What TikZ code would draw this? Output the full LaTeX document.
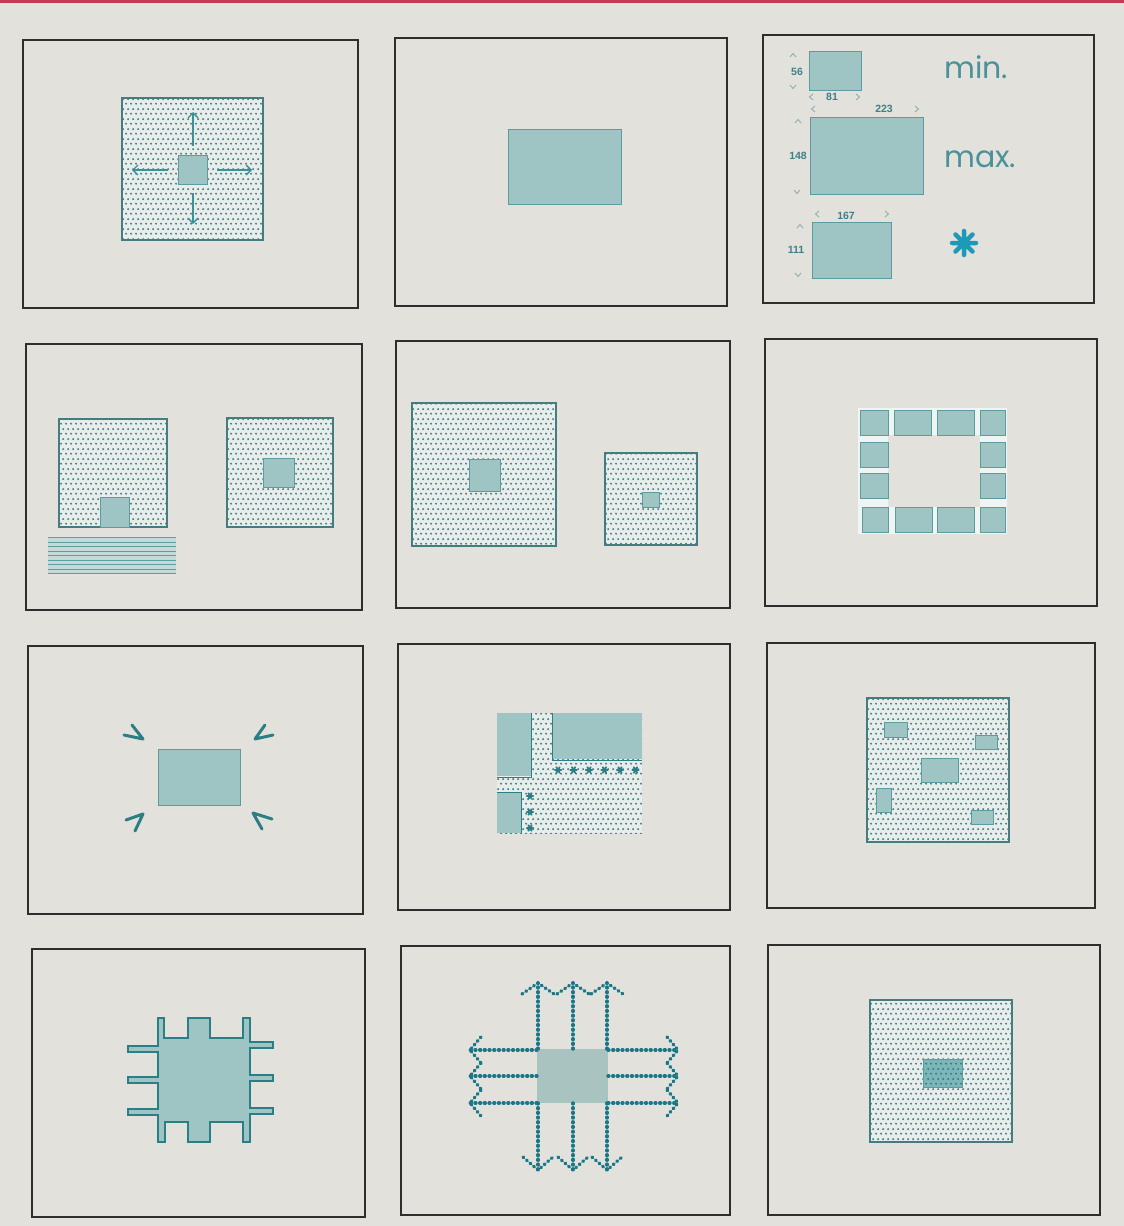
\documentclass[tikz,border=0pt]{standalone}
\usepackage{fontspec}
\usetikzlibrary{patterns.meta,arrows.meta}
\newfontfamily\popfont{Poppins}
\newfontfamily\numfont{Liberation Sans}
\definecolor{bg}{HTML}{E2E1DB}
\definecolor{redline}{HTML}{C43A52}
\definecolor{framec}{HTML}{2E2E2E}
\definecolor{tealfill}{HTML}{9EC4C4}
\definecolor{tealedge}{HTML}{5C9C9F}
\definecolor{dotc}{HTML}{457C80}
\definecolor{dotbg}{HTML}{E6EDEA}
\definecolor{arrc}{HTML}{3A9298}
\definecolor{darkteal}{HTML}{2A7E86}
\definecolor{bluedot}{HTML}{1A7787}
\definecolor{astc}{HTML}{1C9AB8}
\definecolor{textc}{HTML}{4A919A}
\definecolor{chevc}{HTML}{8DAFAF}
\definecolor{numc}{HTML}{3E8088}
\definecolor{stripec}{HTML}{5E9EA0}
\definecolor{stripebg}{HTML}{C4DAD8}
\definecolor{gapc}{HTML}{EEF5F3}
\definecolor{greyteal}{HTML}{A9C3C0}
\definecolor{midteal}{HTML}{7DB6B8}
\tikzdeclarepattern{
  name=hexdots, type=uncolored,
  bottom left={(0pt,0pt)}, top right={(5pt,10pt)},
  tile size={(5pt,10pt)},
  code={\fill (1.25pt,2.5pt) circle [radius=1.2pt];
        \fill (3.75pt,7.5pt) circle [radius=1.2pt];}
}
\tikzset{
  panelframe/.style={draw=framec,line width=2pt},
  dotbox/.style={preaction={fill=dotbg},pattern=hexdots,pattern color=dotc,draw=dotc,line width=1.1pt},
  dotarea/.style={preaction={fill=dotbg},pattern=hexdots,pattern color=dotc},
  tealbox/.style={fill=tealfill,draw=tealedge,line width=1pt},
  smallbox/.style={fill=tealfill,draw=tealedge,line width=1pt},
  arr/.style={draw=arrc,line width=1.4pt,-{Straight Barb[length=5pt,width=10pt]}},
  chevline/.style={draw=chevc,line width=0.9pt},
  numlab/.style={text=numc,font=\numfont\bfseries\fontsize{10.5}{11}\selectfont,inner sep=0pt},
  bigword/.style={text=textc,font=\popfont\fontsize{30}{30}\selectfont,inner sep=0pt,anchor=base west},
  chevsev/.style={draw=darkteal,line width=3pt,line cap=round,line join=round},
  dotline/.style={draw=bluedot,line width=3.4pt,dash pattern=on 0.9pt off 3.8pt,line cap=round},
  tile/.style={fill=tealfill,draw=tealedge,line width=0.8pt},
  chevU/.pic={\draw[chevline] (-3,2)--(0,-1.5)--(3,2);},
  chevD/.pic={\draw[chevline] (-3,-2)--(0,1.5)--(3,-2);},
  chevL/.pic={\draw[chevline] (2,-3)--(-1.5,0)--(2,3);},
  chevR/.pic={\draw[chevline] (-2,-3)--(1.5,0)--(-2,3);},
  mk/.pic={\draw[darkteal,line width=1.8pt,line cap=round] (-3.2,0)--(3.2,0) (-1.6,-2.8)--(1.6,2.8) (-1.6,2.8)--(1.6,-2.8);},
}
\begin{document}
\begin{tikzpicture}[x=1pt,y=-1pt]
\useasboundingbox (0,0) rectangle (1124,1226);
\fill[bg] (0,0) rectangle (1124,1226);
\fill[redline] (0,0) rectangle (1124,2.5);

% ---------- frames ----------
\draw[panelframe] (23,40) rectangle (358,308);
\draw[panelframe] (395,38) rectangle (727,306);
\draw[panelframe] (763,35) rectangle (1094,303);
\draw[panelframe] (26,344) rectangle (362,610);
\draw[panelframe] (396,341) rectangle (730,608);
\draw[panelframe] (765,339) rectangle (1097,606);
\draw[panelframe] (28,646) rectangle (363,914);
\draw[panelframe] (398,644) rectangle (730,910);
\draw[panelframe] (767,643) rectangle (1095,908);
\draw[panelframe] (32,949) rectangle (365,1217);
\draw[panelframe] (401,946) rectangle (730,1215);
\draw[panelframe] (768,945) rectangle (1100,1215);

% ---------- panel 1 ----------
\path[dotbox] (122,98) rectangle (263,240);
\path[tealbox] (178,155) rectangle (207,184);
\draw[arr] (193,146) -- (193,112);
\draw[arr] (193,193) -- (193,224);
\draw[arr] (168,170) -- (132,170);
\draw[arr] (217,170) -- (252,170);

% ---------- panel 2 ----------
\path[tealbox] (508,129) rectangle (621,204);

% ---------- panel 3 ----------
\path[tealbox] (809,51) rectangle (861,90);
\path[tealbox] (810,117) rectangle (923,194);
\path[tealbox] (812,222) rectangle (891,278);
\node[numlab] (d56) at (797,72) {56};
\node[numlab] (d81) at (832,97) {81};
\node[numlab] (d223) at (884,109) {223};
\node[numlab] (d148) at (798,156) {148};
\node[numlab] (d167) at (846,216) {167};
\node[numlab] (d111) at (796,250) {111};
\pic at (793,55) {chevU}; \pic at (793,87) {chevD};
\pic at (811,97) {chevL}; \pic at (858,97) {chevR};
\pic at (813,109) {chevL}; \pic at (917,109) {chevR};
\pic at (798,121) {chevU}; \pic at (797,192) {chevD};
\pic at (817,214) {chevL}; \pic at (887,214) {chevR};
\pic at (800,226) {chevU}; \pic at (798,275) {chevD};
\node[bigword] (wmin) at (944,78) {min.};
\node[bigword] (wmax) at (944,167) {max.};
\draw[astc,line width=4.5pt,line cap=round]
  (952,243)--(976,243) (964,231)--(964,255)
  (955.5,234.5)--(972.5,251.5) (955.5,251.5)--(972.5,234.5);

% ---------- panel 4 ----------
\path[dotbox] (59,419) rectangle (167,527);
\path[tealbox] (100,497) rectangle (129,527);
\fill[stripebg] (48,537) rectangle (176,574);
\foreach \k in {0,...,8} {
  \draw[stripec,line width=0.9pt] (48,{537.5+\k*4.5}) -- (176,{537.5+\k*4.5});
}
\path[dotbox] (227,418) rectangle (333,527);
\path[tealbox] (263,458) rectangle (294,487);

% ---------- panel 5 ----------
\path[dotbox] (412,403) rectangle (556,546);
\path[tealbox] (469,459) rectangle (500,491);
\path[dotbox] (605,453) rectangle (697,545);
\path[tealbox] (642,492) rectangle (659,507);

% ---------- panel 6 ----------
\fill[gapc,even odd rule] (858,408) rectangle (1007,534) (888,435) rectangle (980,507);
\path[tile] (860,410) rectangle (888,435);
\path[tile] (894,410) rectangle (931,435);
\path[tile] (937,410) rectangle (974,435);
\path[tile] (980,410) rectangle (1005,435);
\path[tile] (860,442) rectangle (888,467);
\path[tile] (860,473) rectangle (888,498);
\path[tile] (980,442) rectangle (1005,467);
\path[tile] (980,473) rectangle (1005,498);
\path[tile] (862,507) rectangle (888,532);
\path[tile] (895,507) rectangle (932,532);
\path[tile] (937,507) rectangle (974,532);
\path[tile] (980,507) rectangle (1005,532);

% ---------- panel 7 ----------
\path[tealbox] (158,749) rectangle (240,805);
\draw[chevsev] (124,735) -- (143,739) -- (132,725);
\draw[chevsev] (273,735) -- (255,739) -- (265,725);
\draw[chevsev] (126,820) -- (143,814) -- (135,831);
\draw[chevsev] (272,819) -- (253,813) -- (262,829);

% ---------- panel 8 ----------
\path[dotarea] (497,713) rectangle (642,833);
\fill[tealfill] (497,713) rectangle (531,776);
\fill[tealfill] (552,713) rectangle (642,759);
\fill[tealfill] (497,792) rectangle (521,833);
\draw[darkteal,line width=1pt] (497,777) -- (531,777) -- (531,713);
\draw[darkteal,line width=1pt] (552,713) -- (552,760) -- (642,760);
\draw[darkteal,line width=1pt] (497,792) -- (521,792) -- (521,833);
\foreach \k in {0,...,5} { \pic at ({558+\k*15.5},770) {mk}; }
\foreach \yy in {796,812,828} { \pic at (530,\yy) {mk}; }

% ---------- panel 9 ----------
\path[dotbox] (867,698) rectangle (1009,842);
\path[smallbox] (884,722) rectangle (907,737);
\path[smallbox] (975,735) rectangle (997,749);
\path[smallbox] (921,758) rectangle (958,782);
\path[smallbox] (876,788) rectangle (891,812);
\path[smallbox] (971,810) rectangle (993,824);

% ---------- panel 10 ----------
\path[fill=tealfill,draw=darkteal,line width=1.3pt,line join=miter]
  (158,1018) -- (164,1018) -- (164,1038) -- (188,1038) -- (188,1018) -- (210,1018)
  -- (210,1038) -- (243,1038) -- (243,1018) -- (250,1018) -- (250,1042) -- (273,1042)
  -- (273,1048) -- (250,1048) -- (250,1075) -- (273,1075) -- (273,1081) -- (250,1081)
  -- (250,1108) -- (273,1108) -- (273,1114) -- (250,1114) -- (250,1142) -- (243,1142)
  -- (243,1122) -- (210,1122) -- (210,1142) -- (188,1142) -- (188,1122) -- (165,1122)
  -- (165,1142) -- (158,1142) -- (158,1115) -- (128,1115) -- (128,1109) -- (158,1109)
  -- (158,1083) -- (128,1083) -- (128,1077) -- (158,1077) -- (158,1052) -- (128,1052)
  -- (128,1046) -- (158,1046) -- cycle;

% ---------- panel 11 ----------
\fill[greyteal] (537,1049) rectangle (608,1103);
\foreach \xx in {538,573,607} {
  \draw[dotline] (\xx,1049) -- (\xx,983);
  \draw[dotline] (\xx-16,994) -- (\xx,983) -- (\xx+16,994);
  \draw[dotline] (\xx,1103) -- (\xx,1170);
  \draw[dotline] (\xx-15,1157) -- (\xx,1170) -- (\xx+15,1157);
}
\foreach \yy in {1050,1076,1103} {
  \draw[dotline] (537,\yy) -- (470,\yy);
  \draw[dotline] (481,\yy-13) -- (470,\yy) -- (481,\yy+13);
  \draw[dotline] (608,\yy) -- (678,\yy);
  \draw[dotline] (667,\yy-13) -- (678,\yy) -- (667,\yy+13);
}

% ---------- panel 12 ----------
\path[dotbox] (870,1000) rectangle (1012,1142);
\path[preaction={fill=midteal},pattern=hexdots,pattern color=darkteal,draw=tealedge,line width=0.8pt] (923,1059) rectangle (962,1087);
\end{tikzpicture}
\end{document}
